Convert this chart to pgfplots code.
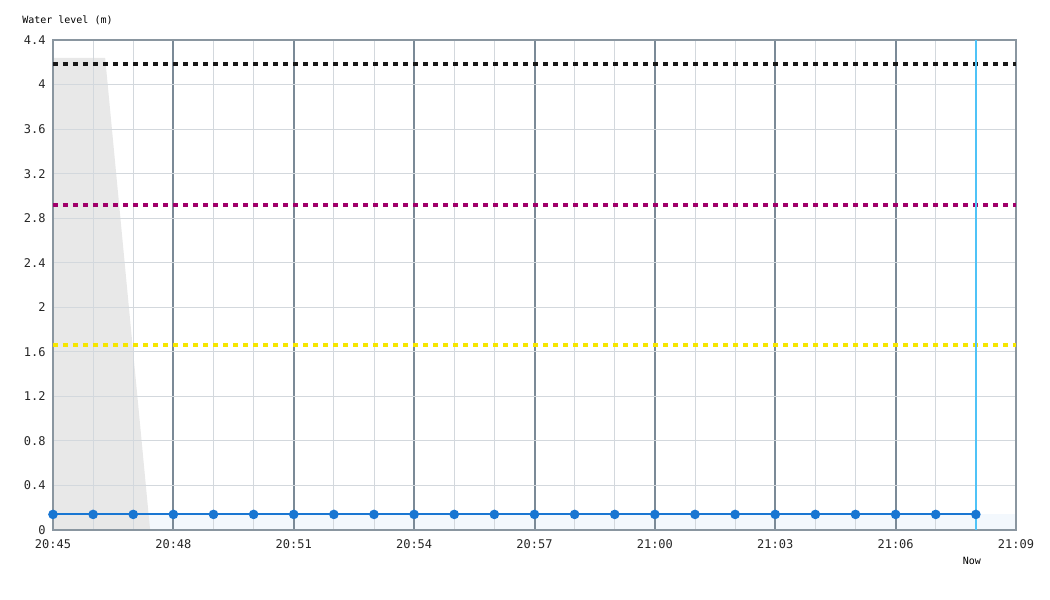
\documentclass[border=0pt]{standalone}
\usepackage{pgfplots}
\pgfplotsset{compat=1.18}
\usepackage{fontspec}
\setmainfont{DejaVu Sans Mono}

\definecolor{frame}{HTML}{8A96A0}
\definecolor{majgrid}{HTML}{7B8A97}
\definecolor{mingrid}{HTML}{D3D8DD}
\definecolor{levelblue}{HTML}{1976D2}
\definecolor{nowblue}{HTML}{4FC3F7}
\definecolor{warnpurple}{HTML}{A0006A}
\definecolor{warnyellow}{HTML}{F5E600}

\begin{document}
\begin{tikzpicture}
\begin{axis}[
    set layers,
    scale only axis,
    width=722.25pt, height=367.5pt,
    xmin=0, xmax=24, ymin=0, ymax=4.4,
    xtick={0,3,...,24},
    xticklabels={20:45,20:48,20:51,20:54,20:57,21:00,21:03,21:06,21:09},
    minor xtick={0,1,...,24},
    ytick={0,0.4,0.8,1.2,1.6,2,2.4,2.8,3.2,3.6,4,4.4},
    yticklabels={0,0.4,0.8,1.2,1.6,2,2.4,2.8,3.2,3.6,4,4.4},
    major tick length=0pt, minor tick length=0pt,
    xmajorgrids, xminorgrids, ymajorgrids,
    major x grid style={majgrid, line width=1.5pt},
    minor x grid style={mingrid, line width=0.75pt},
    major y grid style={mingrid, line width=0.75pt},
    axis line style={frame, line width=1.2pt},
    tick label style={font=\fontsize{9}{10}\selectfont, text=black!85},
    xticklabel style={yshift=-4pt},
    yticklabel style={xshift=-2pt},
    clip=false,
]
% light fill under the level line
\addplot[on layer=axis background, draw=none, fill=levelblue!5]
    coordinates {(0,0) (0,0.14) (24,0.14) (24,0)} -- cycle;
% shaded history area
\addplot[on layer=axis background, draw=none, fill=black!9]
    coordinates {(0,0) (0,4.24) (1.3,4.24) (2.42,0)} -- cycle;
% threshold lines
\addplot[black!90, line width=3pt, dash pattern=on 3.75pt off 3.75pt]
    coordinates {(0,4.18) (24,4.18)};
\addplot[warnpurple, line width=3pt, dash pattern=on 3.75pt off 3.75pt]
    coordinates {(0,2.92) (24,2.92)};
\addplot[warnyellow, line width=3pt, dash pattern=on 3.75pt off 3.75pt]
    coordinates {(0,1.66) (24,1.66)};
% now line
\addplot[nowblue, line width=1.5pt] coordinates {(23,0) (23,4.4)};
% water level
\addplot[levelblue, line width=1.5pt, mark=*, mark size=2.8pt,
    mark options={fill=levelblue, draw=levelblue}]
    coordinates {(0,0.14) (1,0.14) (2,0.14) (3,0.14) (4,0.14) (5,0.14)
    (6,0.14) (7,0.14) (8,0.14) (9,0.14) (10,0.14) (11,0.14) (12,0.14)
    (13,0.14) (14,0.14) (15,0.14) (16,0.14) (17,0.14) (18,0.14)
    (19,0.14) (20,0.14) (21,0.14) (22,0.14) (23,0.14)};
\node[anchor=west, font=\fontsize{7.5}{9}\selectfont, inner sep=0pt]
    at ([xshift=-23.25pt, yshift=15pt]rel axis cs:0,1) {Water level (m)};
\node[font=\fontsize{7.5}{9}\selectfont, inner sep=0pt]
    at ([xshift=-3pt, yshift=-23.25pt]axis cs:23,0) {Now};
\end{axis}
\path ([xshift=-39.75pt, yshift=-52.5pt]current axis.south west)
    rectangle ([xshift=25.5pt, yshift=30pt]current axis.north east);
\end{tikzpicture}
\end{document}
